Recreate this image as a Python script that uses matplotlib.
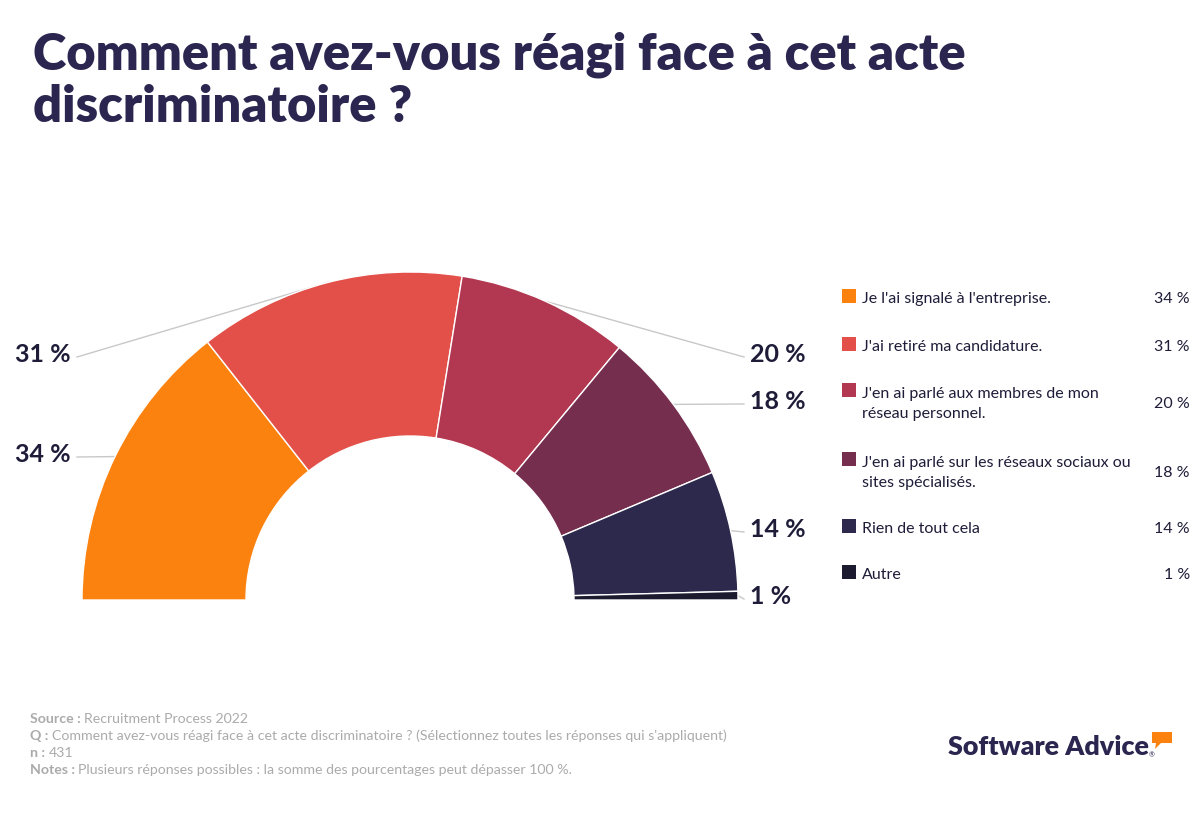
import numpy as np
import matplotlib
matplotlib.use("Agg")
import matplotlib.pyplot as plt
from matplotlib.patches import Polygon

plt.rcParams["font.family"] = ["Lato", "DejaVu Sans"]

categories = [
    "Je l'ai signalé à l'entreprise.",
    "J'ai retiré ma candidature.",
    "J'en ai parlé aux membres de mon\nréseau personnel.",
    "J'en ai parlé sur les réseaux sociaux ou\nsites spécialisés.",
    "Rien de tout cela",
    "Autre",
]
values = [34, 31, 20, 18, 14, 1]
colors = ["#FC820F", "#E25049", "#B23750", "#762E4F", "#2D294D", "#1B1A2F"]

TITLE_LINES = ["Comment avez-vous réagi face à cet acte", "discriminatoire ?"]
DARK = "#2A2650"
TEXT = "#1E1C38"
GREY = "#ABABAB"

fig = plt.figure(figsize=(12, 8.2), dpi=100)
ax = fig.add_axes([0, 0, 1, 1])

# half donut: add an invisible wedge equal to the total so the data fills 180 deg
total = sum(values)
cx, cy, R = 410, 601, 328
wedges, _ = ax.pie(
    values + [total],
    colors=colors + ["none"],
    startangle=180,
    counterclock=True,
    radius=R,
    center=(cx, cy),
    wedgeprops=dict(width=164, edgecolor="white", linewidth=1.0),
    frame=True,
)
wedges[-1].set_edgecolor("none")
ax.set_xlim(0, 1200)
ax.set_ylim(820, 0)
ax.set_aspect("equal")
ax.axis("off")

# value labels with leader lines
label_y = [455, 355, 355, 402, 530, 597]
for w, v, ly in zip(wedges[:-1], values, label_y):
    mid = np.deg2rad((w.theta1 + w.theta2) / 2)
    px = cx + R * np.cos(mid)
    py = cy + R * np.sin(mid)
    if px < cx:
        lx = 77
        ax.plot([lx, px], [ly + 3, py], color="#C8C8C8", lw=1, zorder=0)
        ax.text(lx - 6, ly, f"{v} %", ha="right", va="center", fontsize=18,
                fontweight="bold", color=TEXT)
    else:
        lx = 744
        ax.plot([px, lx], [py, ly + 3], color="#C8C8C8", lw=1, zorder=0)
        ax.text(lx + 6, ly, f"{v} %", ha="left", va="center", fontsize=18,
                fontweight="bold", color=TEXT)

# title
for i, line in enumerate(TITLE_LINES):
    ax.text(33, 70 + i * 52, line, ha="left", va="baseline", fontsize=36.5,
            fontweight="heavy", color=DARK)

# legend
leg_y = [299, 347, 404, 473, 529, 575]
for cat, v, c, ly in zip(categories, values, colors, leg_y):
    n = cat.count("\n")
    top = ly - 11 * n
    ax.add_patch(plt.Rectangle((842, top - 9), 14, 14, facecolor=c,
                               edgecolor="none"))
    ax.text(862, ly, cat, ha="left", va="center", fontsize=11.5, color=TEXT,
            linespacing=1.6)
    ax.text(1190, ly, f"{v} %", ha="right", va="center", fontsize=11.5, color=TEXT)

# footer
foot = [("Source : ", "Recruitment Process 2022"),
        ("Q : ", "Comment avez-vous réagi face à cet acte discriminatoire ? (Sélectionnez toutes les réponses qui s'appliquent)"),
        ("n : ", "431"),
        ("Notes : ", "Plusieurs réponses possibles : la somme des pourcentages peut dépasser 100 %.")]
fig.canvas.draw()
for i, (k, t) in enumerate(foot):
    y = 719 + i * 17
    kt = ax.text(30, y, k, ha="left", va="center", fontsize=10.2, fontweight="bold",
                 color=GREY)
    bb = kt.get_window_extent(renderer=fig.canvas.get_renderer())
    ax.text(30 + bb.width, y, t, ha="left", va="center", fontsize=10.2, color=GREY)

# logo
ax.text(948, 747, "Software Advice", ha="left", va="center", fontsize=19.4,
        fontweight="heavy", color=DARK)
ax.text(1149, 755, "®", ha="left", va="center", fontsize=5, color=DARK)
ax.add_patch(Polygon([(1152, 733), (1172, 733), (1172, 744), (1161, 744),
                      (1155, 750), (1156, 744), (1152, 744)],
                     closed=True, facecolor="#FC820F", edgecolor="none"))

fig.savefig("out.png", dpi=100, facecolor="white")
